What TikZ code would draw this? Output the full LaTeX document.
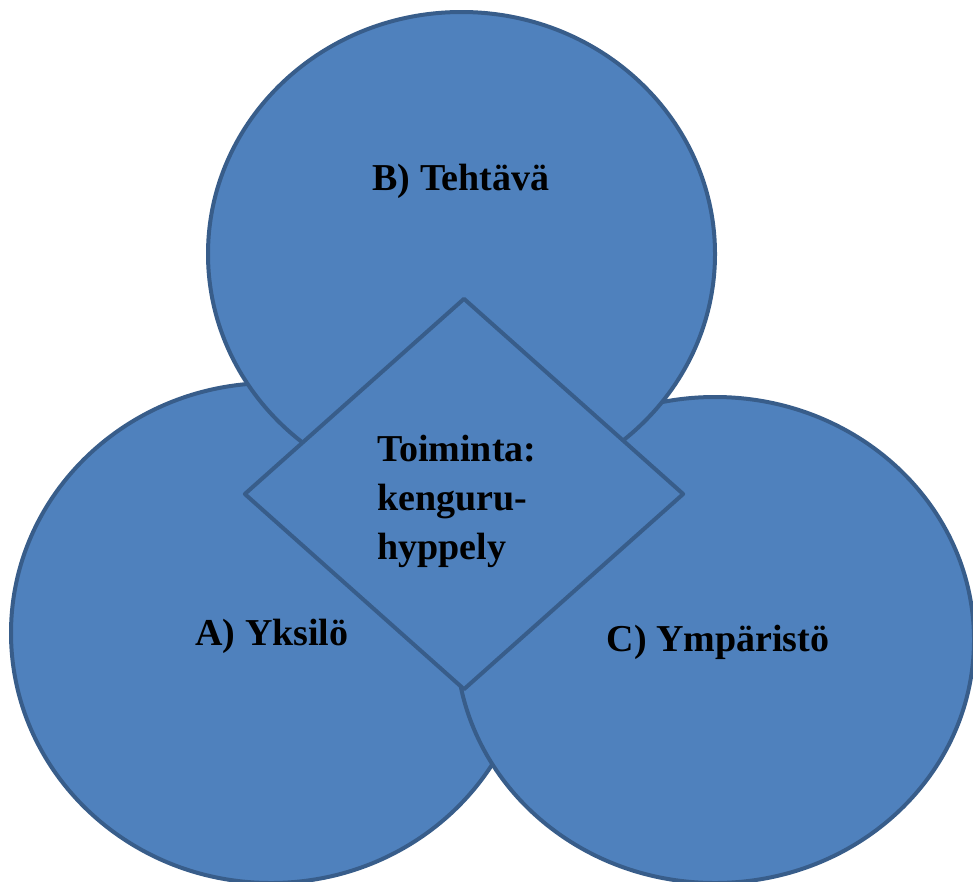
\documentclass[tikz,border=0pt]{standalone}
\usepackage{fontspec}
\setmainfont{Liberation Serif}
\usetikzlibrary{shapes.geometric}
\definecolor{fillblue}{HTML}{4F81BD}
\definecolor{edgeblue}{HTML}{385D8A}
\begin{document}
\begin{tikzpicture}[x=1pt,y=-1pt,
  setshape/.style={ellipse, draw=edgeblue, fill=fillblue, line width=4pt, inner sep=0pt},
  diamshape/.style={diamond, draw=edgeblue, fill=fillblue, line width=4pt, inner sep=0pt, line join=round},
  lbl/.style={font=\fontsize{38}{49}\selectfont\bfseries, text=black, inner sep=0pt}]
\useasboundingbox (0,0) rectangle (973,881);
\node[setshape, minimum width=520pt, minimum height=500pt] (A) at (271,633) {};
\node[setshape, minimum width=518pt, minimum height=486pt] (C) at (715,640) {};
\node[setshape, minimum width=507pt, minimum height=484pt] (B) at (461.5,254) {};
\node[diamshape, minimum width=440pt, minimum height=392pt] (D) at (464,494) {};
\node[lbl] (tB) at (461,181) {B) Tehtävä};
\node[lbl] (tA) at (272,636) {A) Yksilö};
\node[lbl] (tC) at (718,642) {C) Ympäristö};
\node[lbl, align=left, anchor=west] (tD) at (377,501) {Toiminta:\\kenguru-\\hyppely};
\end{tikzpicture}
\end{document}
